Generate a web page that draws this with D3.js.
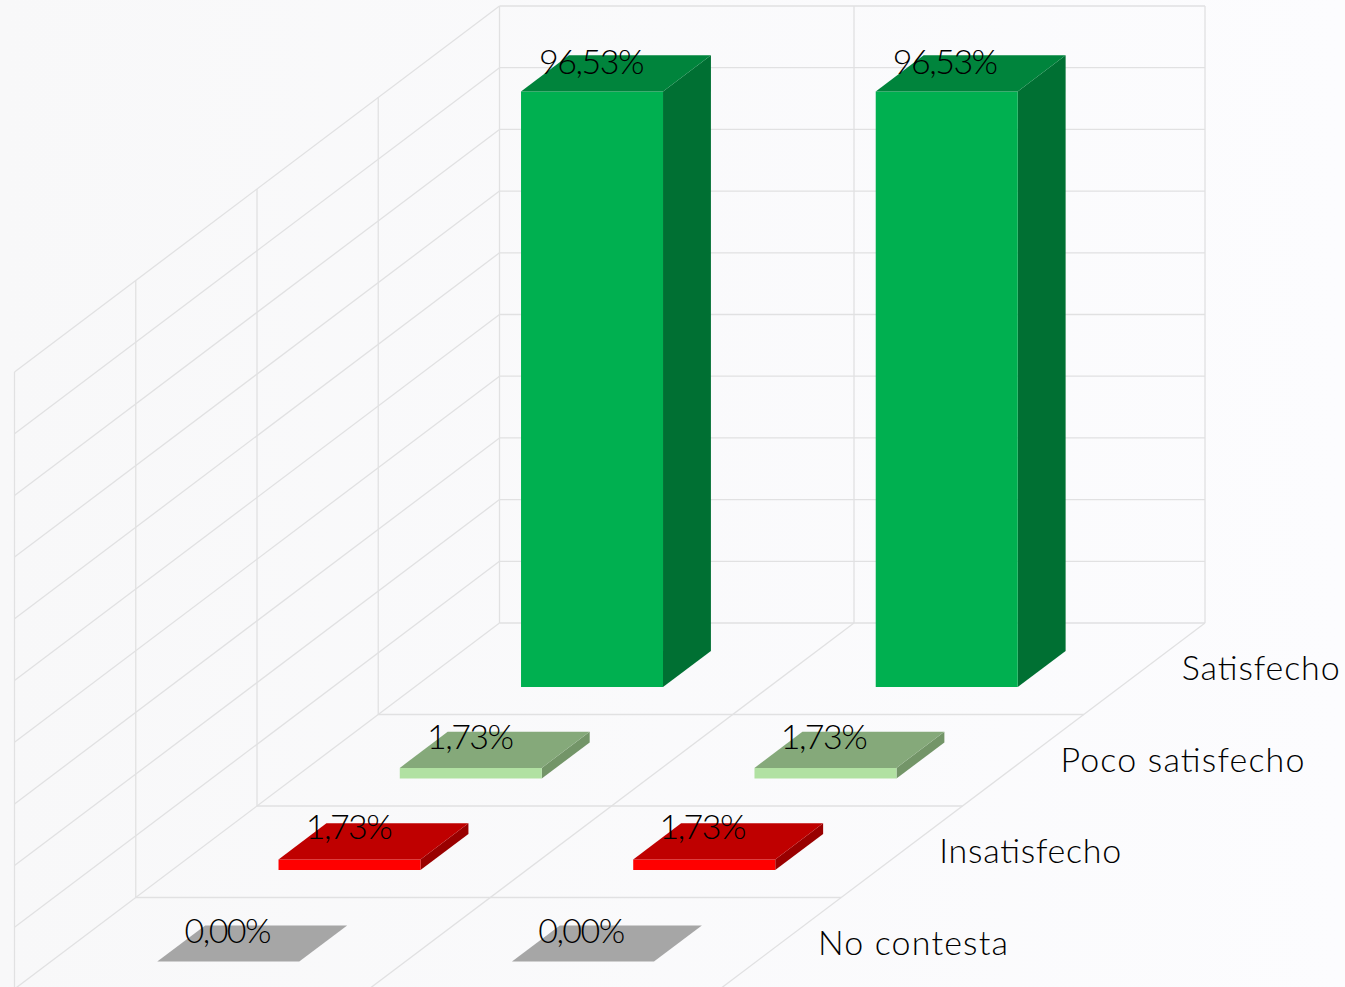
<!DOCTYPE html>
<html lang="es"><head><meta charset="utf-8">
<script src="https://cdn.jsdelivr.net/npm/d3@7/dist/d3.min.js"></script>
<style>
html,body{margin:0;padding:0;overflow:hidden;background:#fbfbfc}
svg{display:block}
text{font-family:Lato,"Open Sans",sans-serif;font-weight:300;fill:#000}
</style></head><body><svg id="c" width="1345" height="987"></svg>
<script>
const categories = ["Satisfecho","Poco satisfecho","Insatisfecho","No contesta"];
const groups = ["A","B"];
const valuesA = [96.53,1.73,1.73,0];
const valuesB = [96.53,1.73,1.73,0];
const valueTicks = [0,10,20,30,40,50,60,70,80,90,100];
const valueLabels = ["96,53%","1,73%","1,73%","0,00%"];
const frontColors = ["#00B050","#B1E1A2","#FF0000","#A6A6A6"];
const topColors   = ["#00843C","#85A97A","#BF0000","#A6A6A6"];
const sideColors  = ["#007033","#739568","#990000","#8E8E8E"];
const labelLift   = [18.5,17.5,15.5,17.5];
const categoryWidths = [158,244,182,190];

const W=1345,H=987;
const svg=d3.select("#c");
const defs=svg.append("defs");
const g=defs.append("linearGradient").attr("id","bg");
g.append("stop").attr("offset",0).attr("stop-color","#f8f8f9");
g.append("stop").attr("offset",1).attr("stop-color","#fcfcfe");
svg.append("rect").attr("width",W).attr("height",H).attr("fill","url(#bg)");

// oblique projection: plane x, value, depth (0..4)
const xWall=d3.scaleLinear().domain([0,1,2]).range([499.5,854,1205]);
const yVal=d3.scaleLinear().domain([0,100]).range([623,6]);
const dX=d3.scaleLinear().domain([0,4]).range([0,-485]);
const dY=d3.scaleLinear().domain([0,4]).range([0,366]);
const P=(px,v,d)=>[px+dX(d),yVal(v)+dY(d)];
const line=d3.line();
const gridColor="#e1e1e2";
const grid=svg.append("g").attr("fill","none").attr("stroke",gridColor).attr("stroke-width",1.3);
const seg=(a,b)=>grid.append("path").attr("d",line([a,b]));

const x0=xWall(0), x1=xWall(2);
valueTicks.forEach(v=>{
  seg(P(x0,v,0),P(x1,v,0));
  seg(P(x0,v,0),P(x0,v,4));
});
[0,1,2].forEach(i=>seg(P(xWall(i),0,0),P(xWall(i),100,0)));
d3.range(1,5).forEach(d=>{
  seg(P(x0,0,d),P(x0,100,d));
  seg(P(x0,0,d),P(x1,0,d));
});
[1,2].forEach(i=>seg(P(xWall(i),0,0),P(xWall(i),0,4)));

// bars
const barW=142, dFront=0.7, dBack=0.305;
const centres=d3.scalePoint().domain(groups).range([676.9,1031.6]);
const marks=svg.append("g");
const labels=svg.append("g");
categories.forEach((c,i)=>{
  [valuesA,valuesB].forEach((vals,k)=>{
    const v=vals[i], cx=centres(groups[k]);
    const L=cx-barW/2,R=cx+barW/2,fd=i+dFront,bd=i+dBack;
    const poly=(pts,col)=>marks.append("path").attr("d",line(pts)+"Z").attr("fill",col);
    if(v>0){
      poly([P(R,0,fd),P(R,0,bd),P(R,v,bd),P(R,v,fd)],sideColors[i]);
      poly([P(L,0,fd),P(R,0,fd),P(R,v,fd),P(L,v,fd)],frontColors[i]);
    }
    poly([P(L,v,fd),P(R,v,fd),P(R,v,bd),P(L,v,bd)],topColors[i]);
    const tx=P(cx,v,fd)[0]-1-k, ty=P(cx,v,bd)[1]+labelLift[i];
    labels.append("text").attr("x",tx).attr("y",ty).attr("text-anchor","middle")
      .attr("font-size",34).attr("letter-spacing",-1.5).text(valueLabels[i]);
  });
  const a=P(x1,0,i+0.5);
  labels.append("text").attr("x",a[0]+37.3).attr("y",a[1]+11.6).attr("font-size",34)
    .attr("textLength",categoryWidths[i]).attr("lengthAdjust","spacing").text(c);
});
</script></body></html>
